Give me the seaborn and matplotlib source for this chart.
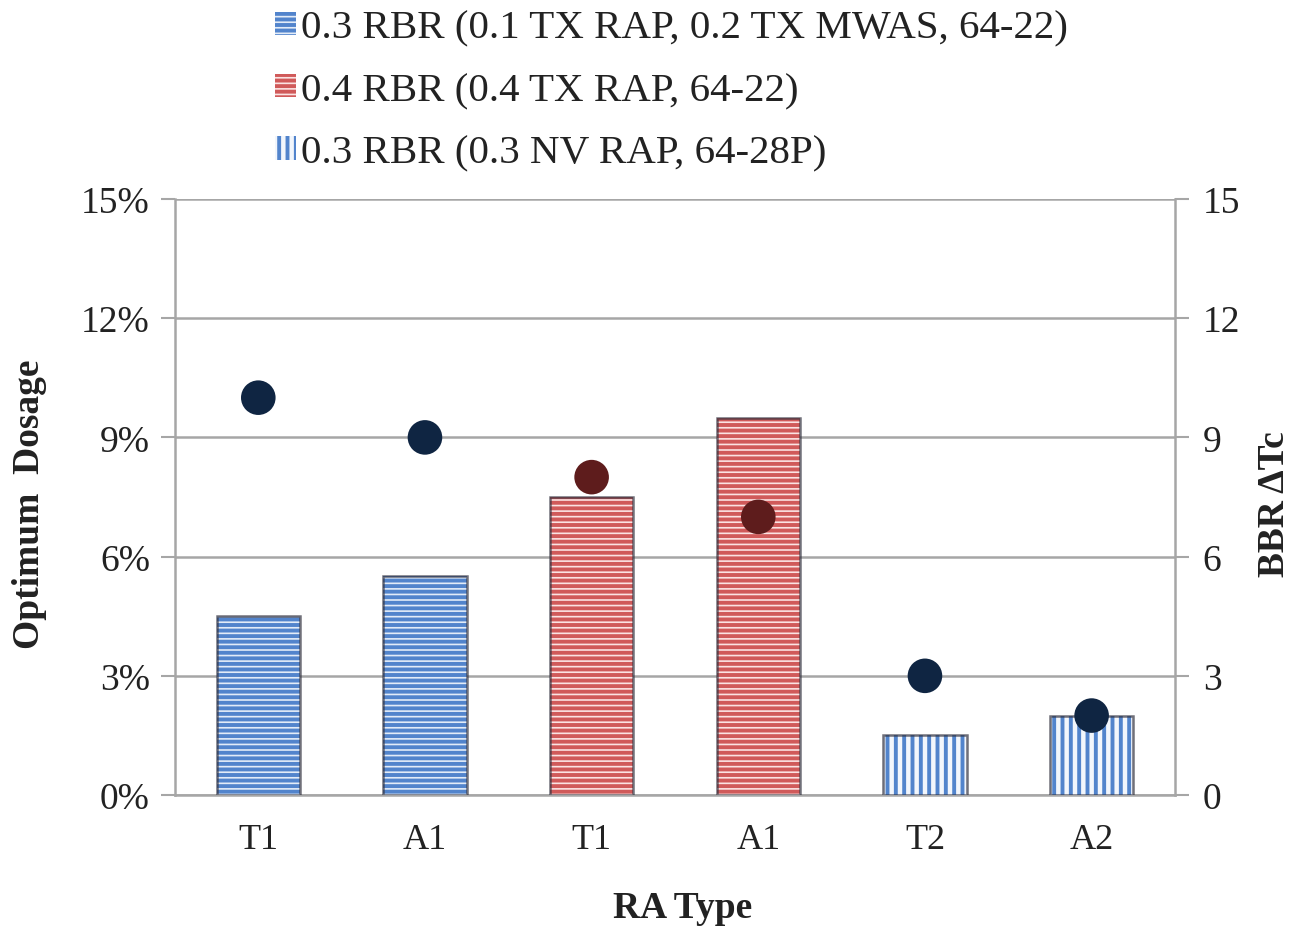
import matplotlib
matplotlib.use("Agg")
import matplotlib.pyplot as plt
import seaborn as sns
import pandas as pd

# Data
ra_labels = ["T1", "A1", "T1", "A1", "T2", "A2"]
series_names = [
    "0.3 RBR (0.1 TX RAP, 0.2 TX MWAS, 64-22)",
    "0.4 RBR (0.4 TX RAP, 64-22)",
    "0.3 RBR (0.3 NV RAP, 64-28P)",
]
series_of_bar = [0, 0, 1, 1, 2, 2]
optimum_dosage = [4.5, 5.5, 7.5, 9.5, 1.5, 2.0]   # percent
bbr_dtc = [10, 9, 8, 7, 3, 2]

# Styling
face_colors = ["#e3ecf8", "#fbe3e3", "#f2f6fc"]
stripe_colors = ["#5284cc", "#d05a5a", "#5284cc"]
hatches = ["---", "---", "||"]
dot_colors = ["#0f2542", "#5e1c1c", "#0f2542"]
grid_gray = "#a6a6a6"
text_color = "#222222"

sns.set_theme(style="white")
plt.rcParams["font.family"] = ["Liberation Serif", "DejaVu Serif"]
plt.rcParams["hatch.linewidth"] = 2.8

df = pd.DataFrame({
    "pos": [str(i) for i in range(len(ra_labels))],
    "dosage": optimum_dosage,
    "series": [series_names[s] for s in series_of_bar],
})

fig = plt.figure(figsize=(12.95, 9.28), dpi=100)
ax = fig.add_axes([0.1351, 0.1422, 0.7722, 0.6423])

sns.barplot(data=df, x="pos", y="dosage", hue="series", hue_order=series_names,
            order=df["pos"].tolist(), dodge=False, width=0.5,
            palette=face_colors, legend=False, ax=ax, zorder=3)

for k, cont in enumerate(ax.containers):
    for p in cont.patches:
        p.set_facecolor(face_colors[k])
        p.set_edgecolor(stripe_colors[k])
        p.set_hatch(hatches[k])
        p.set_linewidth(0)

# dark bevel outline on each bar
sns.barplot(data=df, x="pos", y="dosage", order=df["pos"].tolist(), width=0.5,
            fill=False, color="#3c3c3c", linewidth=1.8, ax=ax, zorder=4)
for p in ax.patches[len(df):]:
    p.set_edgecolor((0.2, 0.2, 0.25, 0.7))

ax.set_ylim(0, 15)
ax.set_xlim(-0.5, len(ra_labels) - 0.5)
ax.set_yticks([0, 3, 6, 9, 12, 15])
ax.set_yticklabels([f"{v}%" for v in [0, 3, 6, 9, 12, 15]])
ax.set_xticks(range(len(ra_labels)))
ax.set_xticklabels(ra_labels)
ax.yaxis.grid(True, color=grid_gray, linewidth=1.8, zorder=0)
ax.set_axisbelow(True)
ax.tick_params(axis="y", which="both", left=True, length=10, width=1.5,
               color=grid_gray, labelsize=27, pad=8, labelcolor=text_color)
ax.tick_params(axis="x", bottom=False, labelsize=26, pad=14, labelcolor=text_color)
for side in ["top", "right"]:
    ax.spines[side].set_visible(False)
ax.spines["left"].set_color(grid_gray)
ax.spines["left"].set_linewidth(1.8)
ax.spines["bottom"].set_color(grid_gray)
ax.spines["bottom"].set_linewidth(1.8)
ax.set_xlabel("RA Type", fontsize=27, fontweight="bold", color=text_color)
ax.xaxis.label.set_va("center")
ax.xaxis.set_label_coords(0.508, -0.188)
ax.set_ylabel("Optimum  Dosage", fontsize=27, fontweight="bold", color=text_color)
ax.yaxis.label.set_va("center")
ax.yaxis.set_label_coords(-0.145, 0.49)

# Secondary axis with BBR ΔTc points
ax2 = ax.twinx()
sns.scatterplot(x=list(range(len(ra_labels))), y=bbr_dtc,
                hue=[series_names[s] for s in series_of_bar],
                palette={series_names[i]: dot_colors[i] for i in range(3)},
                s=620, edgecolor="none", legend=False, ax=ax2, zorder=5)
ax2.set_ylim(0, 15)
ax2.set_yticks([0, 3, 6, 9, 12, 15])
ax2.grid(False)
ax2.tick_params(axis="y", right=True, length=10, width=1.5, color=grid_gray,
                labelsize=27, pad=10, labelcolor=text_color)
for side in ["top", "left", "bottom"]:
    ax2.spines[side].set_visible(False)
ax2.spines["right"].set_color(grid_gray)
ax2.spines["right"].set_linewidth(1.8)
ax2.set_ylabel("BBR ΔTc", fontsize=27, fontweight="bold", color=text_color,
               rotation=90)
ax2.yaxis.label.set_va("center")
ax2.yaxis.label.set_ha("center")
ax2.yaxis.set_label_coords(1.100, 0.49)

# Legend above the plot
handles = [cont.patches[0] for cont in ax.containers[:3]]
fig.legend(handles=handles, labels=series_names, loc="upper left",
           bbox_to_anchor=(0.200, 1.006), frameon=False, fontsize=29.5,
           labelcolor=text_color,
           handlelength=0.5, handleheight=0.5, handletextpad=0.12,
           labelspacing=0.62, borderaxespad=0)

fig.savefig("out.png", dpi=100)
